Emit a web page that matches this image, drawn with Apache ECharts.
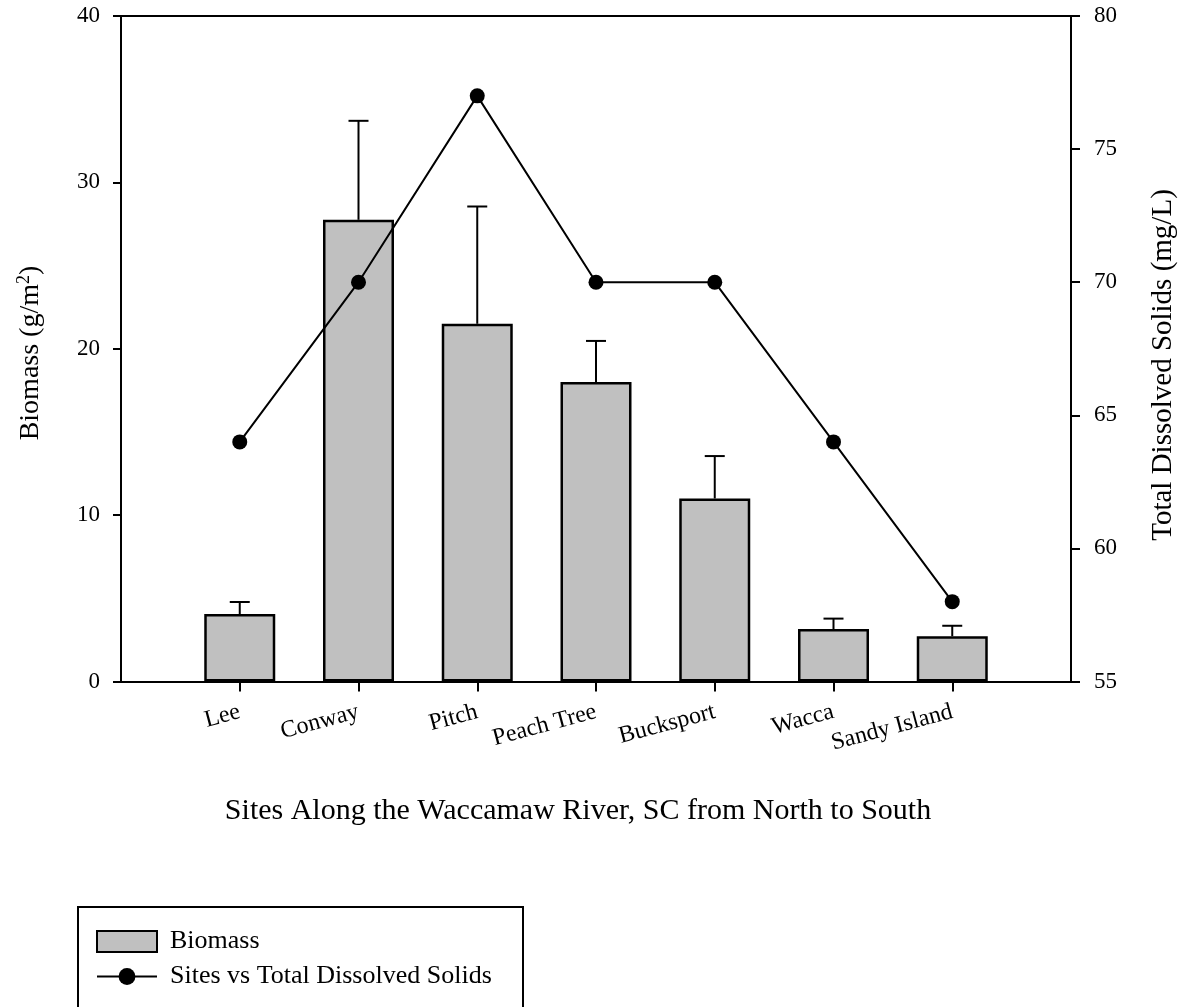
<!DOCTYPE html>
<html>
<head>
<meta charset="utf-8">
<script src="https://cdn.jsdelivr.net/npm/echarts@6/dist/echarts.min.js"></script>
<style>
  html, body { margin: 0; padding: 0; background: #fff; }
  #chart { width: 1185px; height: 1007px; }
</style>
</head>
<body>
<div id="chart"></div>
<script>
// Sampling sites, listed north to south
const sites = ['Lee', 'Conway', 'Pitch', 'Peach Tree', 'Bucksport', 'Wacca', 'Sandy Island'];
// Mean biomass (g/m^2) and its upper error amount
const biomass = [4.05, 27.75, 21.5, 18.0, 11.0, 3.15, 2.72];
const biomassErr = [0.73, 5.95, 7.05, 2.47, 2.55, 0.63, 0.63];
// Total dissolved solids (mg/L)
const tds = [64, 70, 77, 70, 70, 64, 58];
// Axis tick values
const leftTicks = [0, 10, 20, 30, 40];
const rightTicks = [55, 60, 65, 70, 75, 80];
const sitePositions = sites.map((_, i) => i + 1);

const FONT = '"Liberation Serif", "Times New Roman", serif';

const chart = echarts.init(document.getElementById('chart'), null, { renderer: 'canvas' });

const axisLineStyle = { color: '#000', width: 2 };

const option = {
  backgroundColor: '#fff',
  animation: false,
  grid: { left: 121, right: 114, top: 16, height: 665.5, containLabel: false },
  xAxis: [
    {
      type: 'value',
      min: 0,
      max: sites.length + 1,
      interval: 1,
      position: 'bottom',
      splitLine: { show: false },
      axisLine: { show: true, lineStyle: axisLineStyle, onZero: false },
      axisTick: { show: true, length: 10, lineStyle: axisLineStyle, customValues: sitePositions },
      axisLabel: {
        customValues: sitePositions,
        formatter: v => sites[Math.round(v) - 1] || '',
        rotate: 15,
        margin: 30,
        color: '#000',
        fontFamily: FONT,
        fontSize: 24
      }
    },
    {
      // top frame line
      type: 'value',
      min: 0,
      max: sites.length + 1,
      position: 'top',
      splitLine: { show: false },
      axisLine: { show: true, lineStyle: axisLineStyle, onZero: false },
      axisTick: { show: false },
      axisLabel: { show: false }
    }
  ],
  yAxis: [
    {
      type: 'value',
      min: leftTicks[0],
      max: leftTicks[leftTicks.length - 1],
      interval: 10,
      position: 'left',
      splitLine: { show: false },
      axisLine: { show: true, lineStyle: axisLineStyle, onZero: false },
      axisTick: { show: true, length: 8, lineStyle: axisLineStyle },
      axisLabel: { margin: 21, color: '#000', fontFamily: FONT, fontSize: 23 }
    },
    {
      type: 'value',
      min: rightTicks[0],
      max: rightTicks[rightTicks.length - 1],
      interval: 5,
      position: 'right',
      splitLine: { show: false },
      axisLine: { show: true, lineStyle: axisLineStyle, onZero: false },
      axisTick: { show: true, length: 9, lineStyle: axisLineStyle },
      axisLabel: { margin: 23, color: '#000', fontFamily: FONT, fontSize: 23 }
    }
  ],
  legend: {
    orient: 'vertical',
    left: 96,
    top: 928,
    itemWidth: 60,
    itemHeight: 21,
    itemGap: 8,
    padding: 0,
    textStyle: { color: '#000', fontFamily: FONT, fontSize: 26, lineHeight: 27, padding: [0, 0, 0, 8] },
    data: [
      { name: 'Biomass', icon: 'rect' },
      { name: 'Sites vs Total Dissolved Solids' }
    ]
  },
  graphic: [
    {
      // legend frame
      type: 'rect',
      shape: { x: 78, y: 907, width: 445, height: 120 },
      style: { fill: 'none', stroke: '#000', lineWidth: 2 },
      silent: true
    },
    {
      type: 'text',
      x: 31, y: 353,
      rotation: Math.PI / 2,
      style: {
        text: 'Biomass (g/m{sup|2})',
        fontFamily: FONT,
        fontSize: 28,
        fill: '#000',
        align: 'center',
        verticalAlign: 'middle',
        rich: {
          sup: { fontFamily: FONT, fontSize: 18, fill: '#000', padding: [0, 0, 14, 0] }
        }
      },
      silent: true
    },
    {
      type: 'text',
      x: 1163, y: 365,
      rotation: Math.PI / 2,
      style: {
        text: 'Total Dissolved Solids (mg/L)',
        fontFamily: FONT,
        fontSize: 29,
        fill: '#000',
        align: 'center',
        verticalAlign: 'middle'
      },
      silent: true
    },
    {
      type: 'text',
      x: 578, y: 811,
      style: {
        text: 'Sites Along the Waccamaw River, SC from North to South',
        fontFamily: FONT,
        fontSize: 30,
        fill: '#000',
        align: 'center',
        verticalAlign: 'middle'
      },
      silent: true
    }
  ],
  series: [
    {
      name: 'Biomass',
      type: 'bar',
      xAxisIndex: 0,
      yAxisIndex: 0,
      barWidth: 71,
      data: biomass.map((v, i) => [sitePositions[i], v]),
      itemStyle: { color: '#c0c0c0', borderColor: '#000', borderWidth: 2.5 },
      z: 2
    },
    {
      name: 'Biomass error',
      type: 'custom',
      xAxisIndex: 0,
      yAxisIndex: 0,
      data: biomass.map((v, i) => [sitePositions[i], v, v + biomassErr[i]]),
      encode: { x: 0, y: [1, 2] },
      renderItem: function (params, api) {
        const x = api.value(0);
        const p0 = api.coord([x, api.value(1)]);
        const p1 = api.coord([x, api.value(2)]);
        const style = { stroke: '#000', lineWidth: 2 };
        return {
          type: 'group',
          children: [
            { type: 'line', shape: { x1: p0[0], y1: p0[1], x2: p1[0], y2: p1[1] }, style: style },
            { type: 'line', shape: { x1: p1[0] - 10, y1: p1[1], x2: p1[0] + 10, y2: p1[1] }, style: style }
          ]
        };
      },
      z: 3
    },
    {
      name: 'Sites vs Total Dissolved Solids',
      type: 'line',
      xAxisIndex: 0,
      yAxisIndex: 1,
      data: tds.map((v, i) => [sitePositions[i], v]),
      symbol: 'circle',
      symbolSize: 15,
      lineStyle: { color: '#000', width: 2 },
      itemStyle: { color: '#000' },
      z: 4
    }
  ]
};

chart.setOption(option);
</script>
</body>
</html>
